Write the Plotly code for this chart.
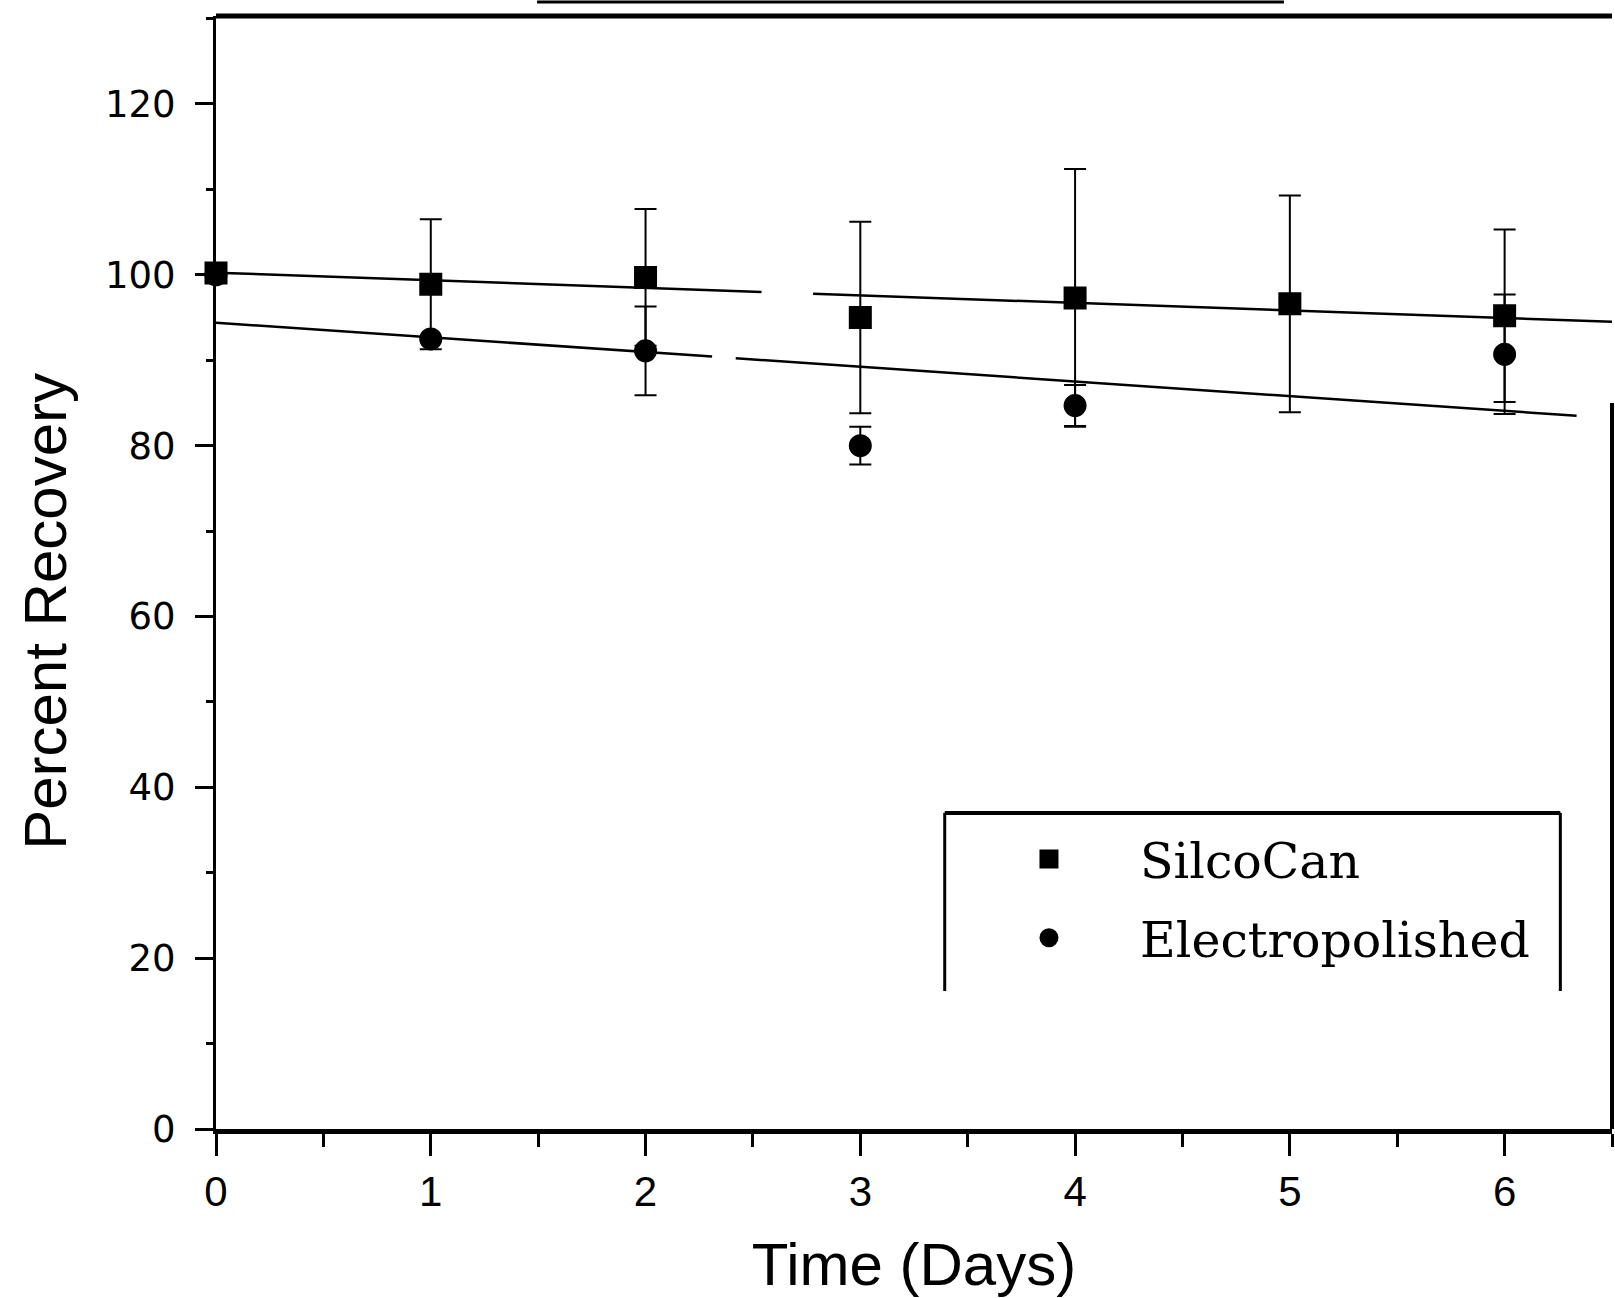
import plotly.graph_objects as go

# ---- data ----
days = [0, 1, 2, 3, 4, 5, 6]
silco = [100.2, 98.9, 99.7, 95.0, 97.3, 96.6, 95.2]
silco_err = [0, 7.6, 8.0, 11.2, 15.1, 12.7, 10.1]

electro_days = [0, 1, 2, 3, 4, 6]
electro = [100.0, 92.5, 91.1, 80.0, 84.7, 90.7]
electro_err = [0, 0, 5.2, 2.2, 2.4, 7.0]

# linear trend lines (intercept, slope) and drawn x-segments (scan gaps)
silco_fit = (100.25, -0.885)
silco_fit_segments = [(0, 2.54), (2.78, 6.5)]
electro_fit = (94.4, -1.72)
electro_fit_segments = [(0, 2.31), (2.42, 6.335)]

x_ticks = [0, 1, 2, 3, 4, 5, 6]
y_ticks = [0, 20, 40, 60, 80, 100, 120]


def seg_line(fit, segs):
    xs, ys = [], []
    for a, b in segs:
        xs += [a, b, None]
        ys += [fit[0] + fit[1] * a, fit[0] + fit[1] * b, None]
    return xs, ys


fig = go.Figure()

for fit, segs in [(silco_fit, silco_fit_segments), (electro_fit, electro_fit_segments)]:
    lx, ly = seg_line(fit, segs)
    fig.add_trace(go.Scatter(x=lx, y=ly, mode="lines", line=dict(color="black", width=2.5),
                             showlegend=False, hoverinfo="skip", cliponaxis=False))

fig.add_trace(go.Scatter(
    x=days, y=silco, mode="markers", name="SilcoCan", legendgroup="a",
    marker=dict(symbol="square", size=20, color="black", line=dict(color="black", width=3)),
    error_y=dict(type="data", array=silco_err, visible=True, color="black", thickness=2, width=11),
    cliponaxis=False,
))
fig.add_trace(go.Scatter(
    x=electro_days, y=electro, mode="markers", name="Electropolished", legendgroup="b",
    marker=dict(symbol="circle", size=20, color="black", line=dict(color="black", width=3)),
    error_y=dict(type="data", array=electro_err, visible=True, color="black", thickness=2, width=11),
    cliponaxis=False,
))

fig.update_xaxes(
    range=[0, 6.5], tickvals=x_ticks, ticktext=[str(v) for v in x_ticks],
    showline=True, linecolor="black", linewidth=5, mirror=False,
    ticks="outside", ticklen=22, tickwidth=3, tickcolor="black",
    minor=dict(dtick=0.5, ticks="outside", ticklen=13, tickwidth=3, tickcolor="black"),
    showgrid=False, zeroline=False,
    tickfont=dict(family="Liberation Sans", size=42, color="black"), ticklabelstandoff=0,
    title=dict(text="Time (Days)", font=dict(family="Liberation Sans", size=60, color="black"), standoff=38),
)
fig.update_yaxes(
    range=[0, 130.3], tickvals=y_ticks, ticktext=[str(v) for v in y_ticks],
    showline=True, linecolor="black", linewidth=3,
    ticks="outside", ticklen=18, tickwidth=3, tickcolor="black",
    minor=dict(dtick=10, ticks="outside", ticklen=7, tickwidth=3, tickcolor="black"),
    showgrid=False, zeroline=False,
    tickfont=dict(family="DejaVu Sans", size=37, color="black"), ticklabelstandoff=12,
)

shapes = [
    # top border
    dict(type="line", xref="paper", yref="paper", x0=0, x1=1, y0=1, y1=1,
         line=dict(color="black", width=5)),
    # partial right border
    dict(type="line", xref="paper", yref="y", x0=1, x1=1, y0=0, y1=85,
         line=dict(color="black", width=4)),
    # stray line above plot
    dict(type="line", xref="paper", yref="paper", x0=0.23, x1=0.765, y0=1.0125, y1=1.0125,
         line=dict(color="black", width=3)),
    # legend box (open bottom)
    dict(type="line", xref="paper", yref="paper", x0=0.522, x1=0.963, y0=0.284, y1=0.284,
         line=dict(color="black", width=4)),
    dict(type="line", xref="paper", yref="paper", x0=0.522, x1=0.522, y0=0.284, y1=0.124,
         line=dict(color="black", width=3)),
    dict(type="line", xref="paper", yref="paper", x0=0.963, x1=0.963, y0=0.284, y1=0.124,
         line=dict(color="black", width=3)),
]

fig.update_layout(
    width=1615, height=1298,
    margin=dict(l=216, r=3, t=16, b=165),
    plot_bgcolor="white", paper_bgcolor="white",
    shapes=shapes,
    showlegend=True,
    legend=dict(x=0.5315, y=0.277, xanchor="left", yanchor="top",
                bgcolor="rgba(0,0,0,0)", borderwidth=0, tracegroupgap=12,
                font=dict(family="DejaVu Serif", size=49, color="black"),
                itemwidth=172),
    annotations=[dict(text="Percent Recovery", xref="paper", yref="paper",
                      x=-0.1218, y=0.4655, xanchor="center", yanchor="middle",
                      textangle=-90, showarrow=False,
                      font=dict(family="Liberation Sans", size=60, color="black"))],
)

fig.write_html("out.html")
